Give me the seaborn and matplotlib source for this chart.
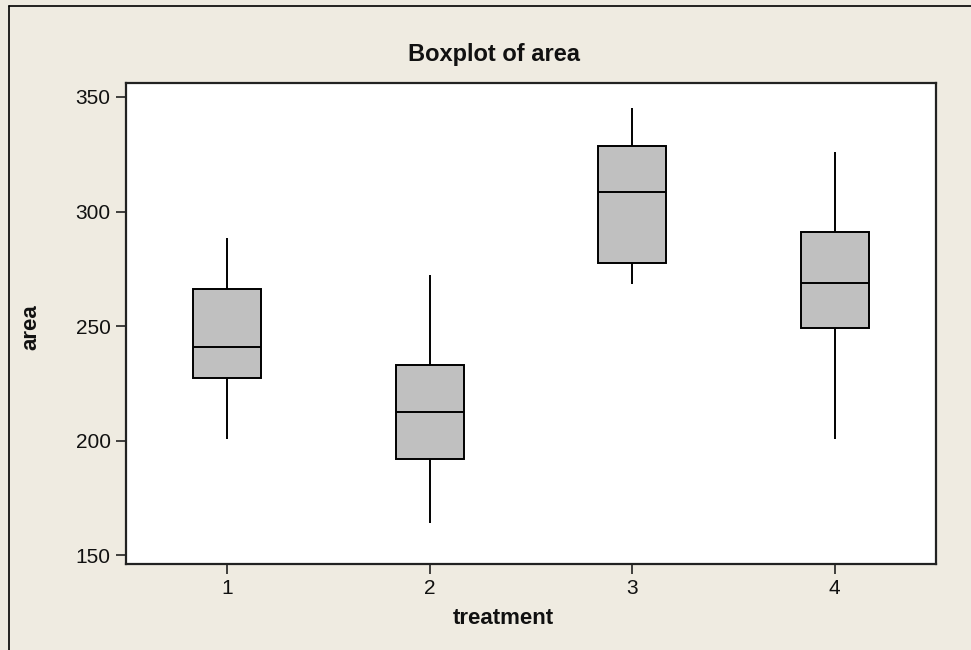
import matplotlib
matplotlib.use("Agg")
import matplotlib.pyplot as plt
import seaborn as sns
import pandas as pd
from matplotlib.lines import Line2D

# Summary values: min, Q1, median, Q3, max
treatment_1 = [200.6, 227.3, 241.0, 266.4, 288.6]
treatment_2 = [164.0, 191.9, 212.3, 233.0, 272.2]
treatment_3 = [268.3, 277.7, 308.7, 328.4, 345.1]
treatment_4 = [200.9, 249.1, 269.0, 291.0, 325.8]
treatments = ["1", "2", "3", "4"]
y_ticks = [150, 200, 250, 300, 350]

rows = []
for t, vals in zip(treatments, [treatment_1, treatment_2, treatment_3, treatment_4]):
    for v in vals:
        rows.append({"treatment": t, "area": v})
df = pd.DataFrame(rows)

sns.set_theme(style="white")
plt.rcParams["font.family"] = ["Liberation Sans", "DejaVu Sans"]

bg = "#EFEBE1"
fig = plt.figure(figsize=(9.71, 6.5), dpi=100, facecolor=bg)
ax = fig.add_axes([126/971, 1-563.7/650, (936-126)/971, (563.7-83)/650])
ax.set_facecolor("white")

sns.boxplot(data=df, x="treatment", y="area", order=treatments, ax=ax,
            color="#C0C0C0", width=0.336, whis=(0, 100), saturation=1,
            linewidth=1.4, linecolor="black",
            boxprops=dict(facecolor="#C0C0C0", edgecolor="black"),
            medianprops=dict(color="black"),
            whiskerprops=dict(color="black"),
            showcaps=False, fliersize=0)

ax.set_xlim(-0.5, 3.5)
ax.set_ylim(146.3, 356.1)
ax.set_yticks(y_ticks)
ax.set_yticklabels([str(v) for v in y_ticks])
for s in ax.spines.values():
    s.set_visible(True)
    s.set_color("#222222")
    s.set_linewidth(1.6)
ax.tick_params(axis="both", direction="out", length=7, width=1.2, color="#222222",
               labelsize=15, labelcolor="#111111", pad=4, left=True, bottom=True)
ax.set_xlabel("")
ax.set_ylabel("")

fig.text(494/971, 1-55/650, "Boxplot of area", ha="center", va="center",
         fontsize=17, fontweight="bold", color="#111111")
fig.text(503/971, 1-618/650, "treatment", ha="center", va="center",
         fontsize=16, fontweight="bold", color="#111111")
fig.text(31/971, 1-327/650, "area", ha="center", va="center", rotation=90,
         fontsize=16, fontweight="bold", color="#111111")

# outer border lines (top and left)
fig.add_artist(Line2D([9/971, 1], [1-6/650, 1-6/650], transform=fig.transFigure,
                      color="black", linewidth=1.2))
fig.add_artist(Line2D([9/971, 9/971], [0, 1-6/650], transform=fig.transFigure,
                      color="black", linewidth=1.2))

fig.savefig("out.png", dpi=100, facecolor=bg)
